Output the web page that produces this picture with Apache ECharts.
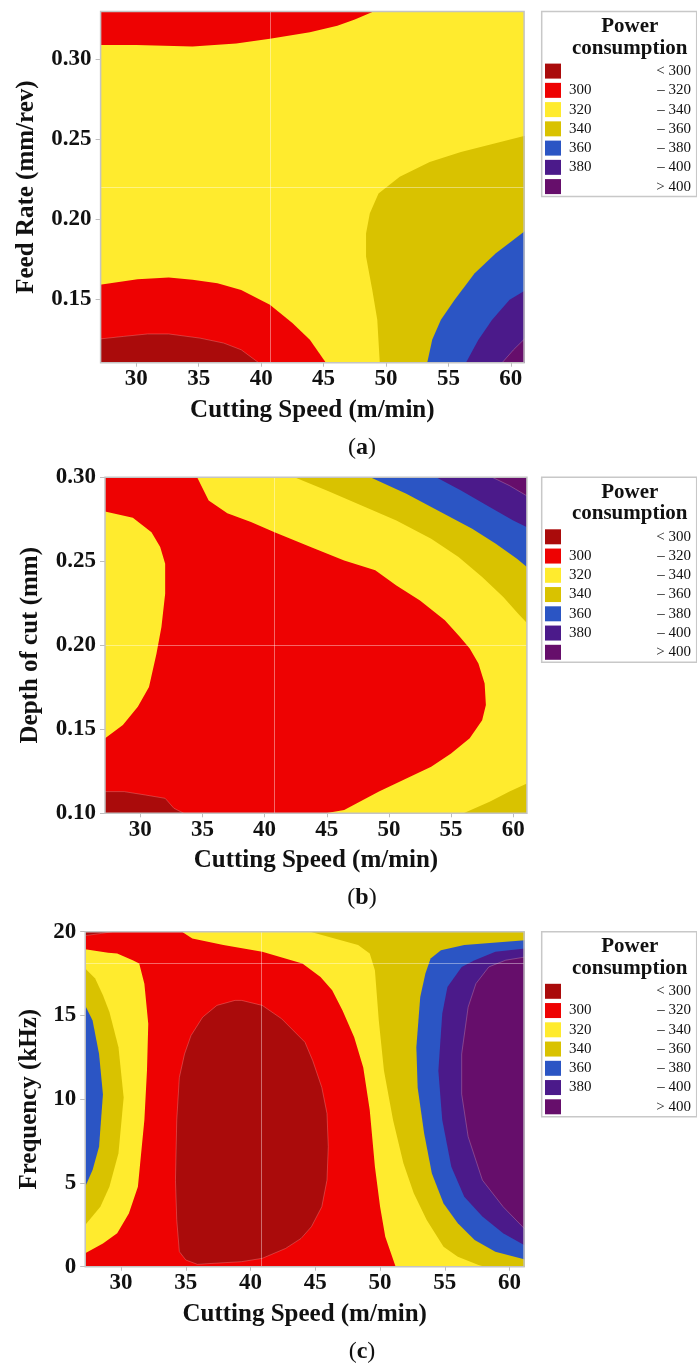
<!DOCTYPE html>
<html><head><meta charset="utf-8">
<script src="https://cdn.jsdelivr.net/npm/echarts@6/dist/echarts.min.js"></script>
<style>html,body{margin:0;padding:0;background:#fff}#c{width:697px;height:1367px}</style>
</head><body><div id="c"></div>
<script>
// ---------- levels / legend ----------
const levelColors = ['#AA0B0B', '#EE0202', '#FFEB2E', '#D9C200', '#2B55C4', '#4B1A8A', '#660E6B'];
const legendLow  = ['', '300', '320', '340', '360', '380', ''];
const legendHigh = ['< 300', '– 320', '– 340', '– 360', '– 380', '– 400', '> 400'];
const legendTitle = ['Power', 'consumption'];

// ---------- tick labels ----------
const xTicks  = [30, 35, 40, 45, 50, 55, 60];
const yTicksA = [0.15, 0.20, 0.25, 0.30];
const yTicksB = [0.10, 0.15, 0.20, 0.25, 0.30];
const yTicksC = [0, 5, 10, 15, 20];

// ---------- axis ranges ----------
const xRangeA = [27.14, 61.06], yRangeA = [0.11, 0.33];
const xRangeB = [27.16, 61.10], yRangeB = [0.10, 0.30];
const xRangeC = [27.23, 61.12], yRangeC = [0, 20];

// faint reference lines [x, y]
const crossA = [40.73, 0.22];
const crossB = [40.8, 0.20];
const crossC = [40.85, 18.1];

// ---------- panel (a): Feed rate vs cutting speed (contour boundaries, data units) ----------
const a_red_top = [[27,0.34],[27,0.309],[30,0.309],[34.5,0.308],[38,0.310],[40.7,0.313],[43.9,0.317],[46.1,0.321],[47.5,0.325],[49.0,0.33],[49.2,0.34]];
const a_red_bot = [[27,0.10],[27,0.1587],[30.1,0.1623],[32.6,0.1633],[34.5,0.162],[36.5,0.1598],[38.4,0.1556],[40.7,0.1463],[42.5,0.1348],[43.9,0.1244],[45.2,0.1098],[45.3,0.10]];
const a_dark    = [[27,0.10],[27,0.1248],[29,0.1265],[30.9,0.128],[32.6,0.128],[35.1,0.1254],[37.0,0.1223],[38.4,0.1181],[39.8,0.11],[39.85,0.10]];
const a_olive   = [[61.3,0.2525],[56.0,0.242],[53.5,0.2358],[51.1,0.2265],[49.4,0.216],[48.7,0.2035],[48.4,0.191],[48.4,0.1765],[48.9,0.1556],[49.3,0.1369],[49.5,0.11],[49.55,0.10],[61.3,0.10]];
const a_blue    = [[61.3,0.1935],[58.8,0.1785],[57.1,0.166],[55.5,0.1494],[54.4,0.1369],[53.7,0.1244],[53.3,0.11],[53.28,0.10],[61.3,0.10]];
const a_indigo  = [[61.3,0.156],[59.9,0.1494],[58.5,0.1369],[57.4,0.1244],[56.4,0.11],[56.35,0.10],[61.3,0.10]];
const a_purple  = [[61.3,0.1265],[60.2,0.118],[59.3,0.11],[59.25,0.10],[61.3,0.10]];
const regionsA = [[2,null],[1,a_red_top],[1,a_red_bot],[0,a_dark],[3,a_olive],[4,a_blue],[5,a_indigo],[6,a_purple]];

// ---------- panel (b): Depth of cut vs cutting speed ----------
const b_yellow_left  = [[27,0.2798],[29.4,0.2758],[30.9,0.2673],[31.6,0.2584],[32.0,0.2485],[32.0,0.2307],[31.7,0.2109],[31.3,0.195],[30.7,0.1752],[29.8,0.1634],[28.6,0.1525],[27.17,0.1446],[27,0.143]];
const b_yellow_right = [[34.57,0.31],[34.57,0.30],[35.5,0.2861],[37.0,0.2786],[38.9,0.2733],[40.8,0.2673],[43.7,0.2584],[46.4,0.2505],[48.9,0.2446],[50.6,0.2356],[52.5,0.2267],[54.5,0.2149],[55.7,0.2050],[56.5,0.198],[57.2,0.1891],[57.7,0.1772],[57.8,0.1644],[57.5,0.1554],[56.5,0.1446],[55.0,0.1356],[53.4,0.1277],[51.7,0.1218],[49.2,0.1129],[46.4,0.102],[44.9,0.10],[44.5,0.09],[61.3,0.09],[61.3,0.31]];
const b_olive_top    = [[42.4,0.31],[42.4,0.30],[45.0,0.2921],[47.8,0.2832],[50.6,0.2743],[53.4,0.2634],[55.6,0.2525],[57.5,0.2406],[59.2,0.2287],[60.4,0.2188],[61.1,0.2133],[61.3,0.211],[61.3,0.31]];
const b_blue         = [[48.5,0.31],[48.5,0.30],[51.4,0.2901],[54.2,0.2792],[56.7,0.2693],[58.6,0.2604],[60.3,0.2515],[61.1,0.2465],[61.3,0.245],[61.3,0.31]];
const b_indigo       = [[53.8,0.31],[53.8,0.30],[55.8,0.2921],[58.1,0.2822],[60.0,0.2743],[61.3,0.2695],[61.3,0.31]];
const b_purple       = [[58.3,0.31],[58.3,0.30],[59.7,0.295],[61.3,0.288],[61.3,0.31]];
const b_olive_bot    = [[55.9,0.09],[56.0,0.10],[58.1,0.1069],[59.7,0.1129],[61.1,0.1178],[61.3,0.119],[61.3,0.09]];
const b_dark         = [[27,0.09],[27,0.1129],[28.7,0.1129],[30.4,0.1109],[32.0,0.1089],[32.7,0.103],[33.5,0.10],[33.6,0.09]];
const regionsB = [[1,null],[2,b_yellow_left],[2,b_yellow_right],[3,b_olive_top],[4,b_blue],[5,b_indigo],[6,b_purple],[3,b_olive_bot],[0,b_dark]];

// ---------- panel (c): Frequency vs cutting speed ----------
const c_dark_corner  = [[27,20.5],[27,19.74],[28.5,19.9],[29.3,20.0],[29.4,20.5]];
const c_yellow_left  = [[27,19.0],[27.23,18.95],[29.0,18.75],[29.7,18.7],[30.9,18.3],[31.4,18.1],[31.8,16.9],[32.1,14.5],[32.0,11.7],[31.8,8.76],[31.5,6.37],[31.3,4.78],[30.6,3.18],[29.7,1.99],[28.6,1.39],[27.23,0.80],[27,0.7]];
const c_olive_left   = [[27,17.9],[27.23,17.8],[28.0,17.2],[28.6,16.2],[29.1,15.2],[29.8,13.1],[30.2,10.1],[29.8,6.77],[29.1,4.78],[28.4,3.58],[27.23,2.49],[27,2.3]];
const c_blue_left    = [[27,15.8],[27.23,15.6],[27.8,14.7],[28.3,12.7],[28.6,10.3],[28.3,7.16],[27.8,5.77],[27.23,4.78],[27,4.5]];
const c_dark_blob    = [[39.3,15.9],[40.9,15.6],[42.4,14.8],[44.2,13.4],[44.8,12.3],[45.5,10.7],[45.9,9.15],[46.0,7.16],[45.9,5.17],[45.5,3.58],[44.7,2.39],[43.9,1.69],[42.7,1.09],[40.9,0.50],[39.3,0.30],[37.1,0.20],[35.9,0.14],[35.0,0.40],[34.5,0.90],[34.3,2.79],[34.2,5.17],[34.3,8.76],[34.5,11.3],[34.9,12.7],[35.4,13.8],[36.3,14.9],[37.4,15.6],[38.8,15.9]];
const c_yellow_right = [[34.7,20.5],[34.7,20],[35.5,19.6],[37.9,19.2],[40.9,18.8],[44.0,18.1],[45.4,17.3],[46.3,16.5],[47.1,15.3],[48.0,13.7],[48.7,11.9],[49.2,9.35],[49.6,5.97],[50.0,3.58],[50.4,1.79],[51.2,0],[51.3,-0.5],[61.3,-0.5],[61.3,20.5]];
const c_olive_right  = [[44.6,20.5],[44.6,20],[48.3,19.2],[49.2,18.7],[49.6,17.7],[49.9,14.7],[50.3,11.7],[51.0,8.76],[51.8,6.17],[52.6,4.38],[53.6,2.79],[54.9,1.19],[56.0,0.60],[57.6,0.10],[58.1,0],[58.2,-0.5],[61.3,-0.5],[61.3,20.5]];
const c_blue_right   = [[61.3,19.5],[56.5,19.2],[54.7,18.9],[53.9,18.4],[53.5,17.5],[53.1,16.1],[52.8,13.1],[52.9,10.7],[53.4,7.96],[54.0,5.57],[54.9,3.78],[56.0,2.59],[57.3,1.59],[58.9,0.90],[61.12,0.44],[61.3,0.42]];
const c_indigo_right = [[61.3,19.0],[58.9,18.8],[57.3,18.3],[56.3,17.9],[55.2,16.7],[54.8,15.1],[54.5,11.7],[54.8,8.76],[55.5,5.97],[56.5,4.18],[57.9,2.99],[59.5,1.99],[61.12,1.29],[61.3,1.25]];
const c_purple_right = [[61.3,18.5],[59.7,18.3],[58.4,17.9],[57.4,16.9],[56.8,15.5],[56.3,12.7],[56.3,10.3],[56.8,7.76],[57.9,5.17],[59.5,3.58],[61.12,2.29],[61.3,2.2]];
const regionsC = [[1,null],[0,c_dark_corner],[2,c_yellow_left],[3,c_olive_left],[4,c_blue_left],[0,c_dark_blob],[2,c_yellow_right],[3,c_olive_right],[4,c_blue_right],[5,c_indigo_right],[6,c_purple_right]];

// ---------- layout ----------
const FONT = '"Liberation Serif", "Times New Roman", serif';
const panels = [
  {grid:{left:100.6, top:11.5, width:423.5, height:351.2}, x:xRangeA, y:yRangeA, yTicks:yTicksA, dec:2, yName:'Feed Rate (mm/rev)', yGap:62, regions:regionsA, cross:crossA, cap:'a', capY:448},
  {grid:{left:105,   top:477.2, width:421.9, height:336.1}, x:xRangeB, y:yRangeB, yTicks:yTicksB, dec:2, yName:'Depth of cut (mm)', yGap:61.5, regions:regionsB, cross:crossB, cap:'b', capY:898},
  {grid:{left:85.2,  top:931.7, width:438.9, height:335.0}, x:xRangeC, y:yRangeC, yTicks:yTicksC, dec:0, yName:'Frequency (kHz)', yGap:43.5, regions:regionsC, cross:crossC, cap:'c', capY:1352}
];

const grids = [], xAxes = [], yAxes = [], series = [], graphics = [];
panels.forEach((p, i) => {
  grids.push(Object.assign({show:true, borderColor:'#c4c4c4', borderWidth:1.5, backgroundColor:'transparent', z:10}, p.grid));
  xAxes.push({
    type:'value', gridIndex:i, min:p.x[0], max:p.x[1],
    axisLine:{show:false}, splitLine:{show:false},
    axisTick:{show:true, length:4, lineStyle:{color:'#bdbdbd', width:1}, customValues:xTicks},
    axisLabel:{customValues:xTicks, fontFamily:FONT, fontWeight:'bold', fontSize:23, color:'#111', margin:5},
    name:'Cutting Speed (m/min)', nameLocation:'middle', nameGap:35,
    nameTextStyle:{fontFamily:FONT, fontWeight:'bold', fontSize:25, color:'#111'}
  });
  yAxes.push({
    type:'value', gridIndex:i, min:p.y[0], max:p.y[1],
    axisLine:{show:false}, splitLine:{show:false},
    axisTick:{show:true, length:5, lineStyle:{color:'#bdbdbd', width:1}, customValues:p.yTicks},
    axisLabel:{customValues:p.yTicks, fontFamily:FONT, fontWeight:'bold', fontSize:23, color:'#111', margin:9,
               formatter:(v) => Number(v).toFixed(p.dec)},
    name:p.yName, nameLocation:'middle', nameGap:p.yGap,
    nameTextStyle:{fontFamily:FONT, fontWeight:'bold', fontSize:25, color:'#111'}
  });
  const regs = p.regions.map(r => [r[0], r[1] || [[p.x[0],p.y[0]],[p.x[1],p.y[0]],[p.x[1],p.y[1]],[p.x[0],p.y[1]]]]);
  series.push({
    type:'custom', xAxisIndex:i, yAxisIndex:i, clip:true, silent:true, animation:false,
    data: regs.map(r => r[1][0]),
    renderItem:(params, api) => {
      const r = regs[params.dataIndex];
      const pts = r[1].map(pt => api.coord(pt));
      const edge = (r[0] === 0 || r[0] === 6);
      return {type:'polygon', shape:{points:pts},
              style:{fill:levelColors[r[0]], stroke: edge ? 'rgba(255,200,200,0.35)' : null, lineWidth: edge ? 0.8 : 0}};
    }
  });
  series.push({
    type:'line', xAxisIndex:i, yAxisIndex:i, data:[], z:5, silent:true, animation:false,
    markLine:{silent:true, symbol:'none', animation:false, label:{show:false},
      lineStyle:{color:'rgba(255,255,255,0.4)', width:1, type:'solid'},
      data:[{xAxis:p.cross[0]}, {yAxis:p.cross[1]}]}
  });
  // legend box
  const lx = 541.7, ly = p.grid.top, lw = 155, lh = 185;
  const kids = [
    {type:'rect', shape:{x:lx, y:ly, width:lw, height:lh}, style:{fill:'#fff', stroke:'#c8c8c8', lineWidth:1.5}},
    {type:'text', x:lx+88, y:ly+15, style:{text:legendTitle[0], font:'bold 21px ' + FONT, fill:'#111', align:'center', verticalAlign:'middle'}},
    {type:'text', x:lx+88, y:ly+36.6, style:{text:legendTitle[1], font:'bold 21px ' + FONT, fill:'#111', align:'center', verticalAlign:'middle'}}
  ];
  levelColors.forEach((col, k) => {
    const cy = ly + 59.6 + k * 19.25;
    kids.push({type:'rect', shape:{x:545, y:cy-7.5, width:16, height:15}, style:{fill:col}});
    if (legendLow[k]) kids.push({type:'text', x:569, y:cy, style:{text:legendLow[k], font:'15px ' + FONT, fill:'#111', align:'left', verticalAlign:'middle'}});
    kids.push({type:'text', x:691, y:cy, style:{text:legendHigh[k], font:'15px ' + FONT, fill:'#111', align:'right', verticalAlign:'middle'}});
  });
  graphics.push({type:'group', children:kids});
  graphics.push({type:'text', x:362, y:p.capY, style:{
    text:'{n|(}{b|' + p.cap + '}{n|)}', align:'center', verticalAlign:'middle',
    rich:{n:{font:'24px ' + FONT, fill:'#111'}, b:{font:'bold 24px ' + FONT, fill:'#111'}}}});
});

const chart = echarts.init(document.getElementById('c'), null, {renderer:'canvas'});
chart.setOption({
  animation:false, backgroundColor:'#fff',
  grid:grids, xAxis:xAxes, yAxis:yAxes, series:series, graphic:graphics
});
</script></body></html>
